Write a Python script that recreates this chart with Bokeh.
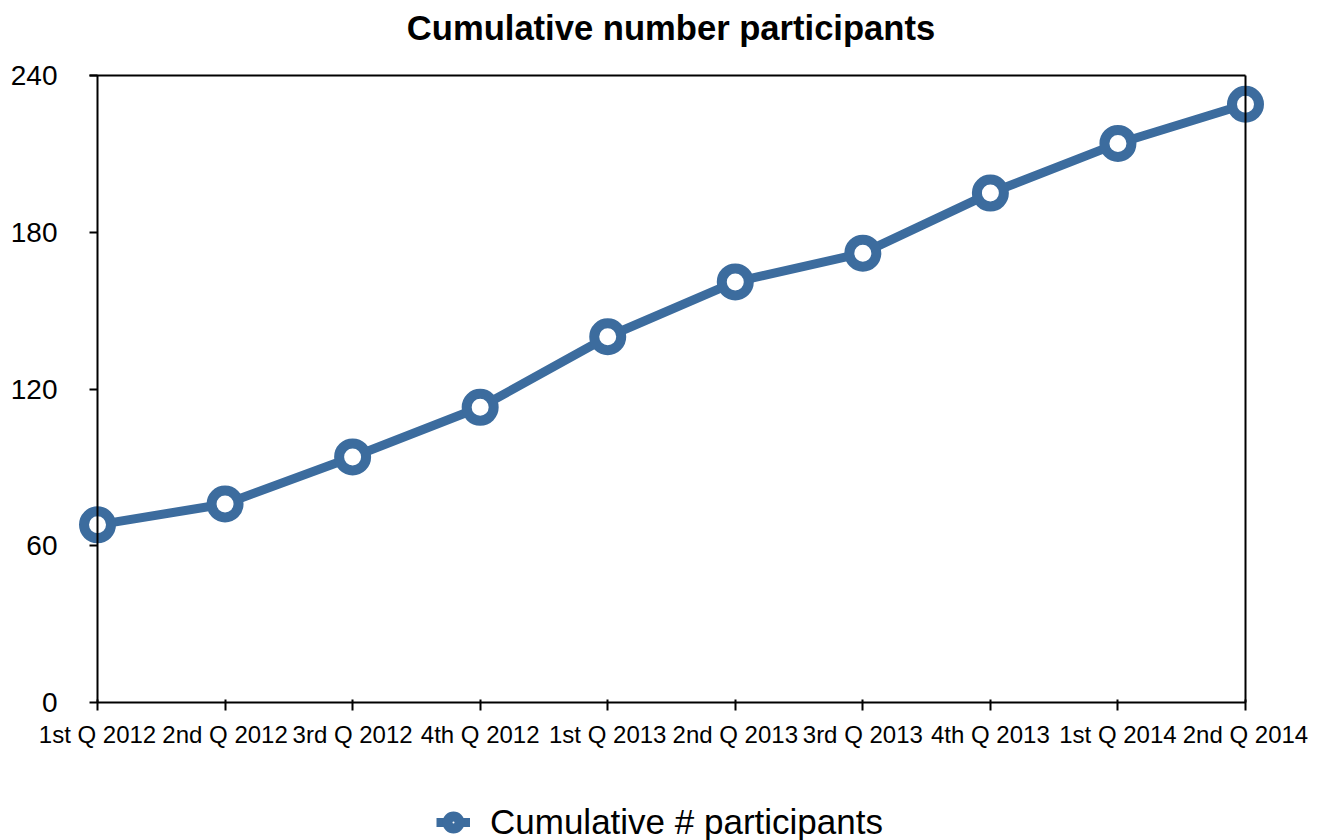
from bokeh.plotting import figure
from bokeh.models import Range1d, FixedTicker, LinearAxis, Legend, LegendItem, Label
from bokeh.embed import file_html
from bokeh.resources import INLINE

# ---- data ----
quarters = ["1st Q 2012", "2nd Q 2012", "3rd Q 2012", "4th Q 2012",
            "1st Q 2013", "2nd Q 2013", "3rd Q 2013", "4th Q 2013",
            "1st Q 2014", "2nd Q 2014"]
participants = [68, 76, 94, 113, 140, 161, 172, 195, 214, 229]
y_ticks = [0, 60, 120, 180, 240]
series_name = "Cumulative # participants"
title_text = "Cumulative number participants"

FONT = "Liberation Sans"
COLOR = "#3c6c9e"

x = list(range(len(quarters)))
n_last = len(quarters) - 1

# the plot area spans the whole canvas; the axes sit at the data positions,
# with room around them for the title, the tick labels and the legend
X_PAD_LEFT, X_PAD_RIGHT = 0.7605, 0.6037
Y_PAD_BOTTOM, Y_PAD_TOP = 52.82, 28.71

p = figure(width=1322, height=840, output_backend="svg", toolbar_location=None,
           x_range=Range1d(-X_PAD_LEFT, n_last + X_PAD_RIGHT),
           y_range=Range1d(y_ticks[0] - Y_PAD_BOTTOM, y_ticks[-1] + Y_PAD_TOP),
           min_border_left=0, min_border_right=0, min_border_top=0, min_border_bottom=0,
           x_axis_location=None, y_axis_location=None)
p.outline_line_color = None
p.grid.visible = False
p.background_fill_color = "white"
p.border_fill_color = "white"
p.title.visible = False


def frame_axis(axis):
    axis.axis_line_width = 2
    axis.axis_line_color = "black"
    axis.major_tick_line_width = 2
    axis.major_tick_line_color = "black"
    axis.minor_tick_line_color = None
    return axis


# bottom x axis at y = 0
xax = frame_axis(LinearAxis(ticker=FixedTicker(ticks=x), bounds=(0, n_last), fixed_location=0,
                            major_label_overrides={i: q for i, q in enumerate(quarters)}))
xax.major_tick_in = 3
xax.major_tick_out = 8
xax.major_label_text_font = FONT
xax.major_label_text_font_size = "24px"
xax.major_label_text_color = "black"
xax.major_label_standoff = 10
p.add_layout(xax, "below")

# left y axis at x = 0
yax = frame_axis(LinearAxis(ticker=FixedTicker(ticks=y_ticks),
                            bounds=(y_ticks[0], y_ticks[-1]), fixed_location=0))
yax.major_tick_in = 0
yax.major_tick_out = 8
yax.major_label_text_font = FONT
yax.major_label_text_font_size = "28px"
yax.major_label_text_color = "black"
yax.major_label_standoff = 32
p.add_layout(yax, "left")

# right frame line at the last category
rax = frame_axis(LinearAxis(ticker=FixedTicker(ticks=[]),
                            bounds=(y_ticks[0], y_ticks[-1]), fixed_location=n_last))
rax.major_tick_line_color = None
rax.major_label_text_font_size = "0px"
p.add_layout(rax, "right")

# top frame line at y = 240
tax = frame_axis(LinearAxis(ticker=FixedTicker(ticks=[]), bounds=(-0.063, n_last),
                            fixed_location=y_ticks[-1]))
tax.major_tick_line_color = None
tax.major_label_text_font_size = "0px"
p.add_layout(tax, "above")

# title
title = Label(x=670.5, y=813, x_units="screen", y_units="screen", text=title_text,
              text_font=FONT, text_font_size="34.6px", text_font_style="bold",
              text_color="black", text_align="center", text_baseline="middle")
p.add_layout(title)

# series
ln = p.line(x, participants, line_width=9, line_color=COLOR, line_join="round")
sc = p.scatter(x, participants, size=27, fill_color="white", line_color=COLOR, line_width=10)

legend = Legend(items=[LegendItem(label=series_name, renderers=[ln, sc])],
                location=(436, -2), orientation="horizontal",
                border_line_color=None, background_fill_alpha=0,
                padding=0, margin=0, glyph_width=34, glyph_height=30,
                label_standoff=20, label_text_font=FONT, label_text_font_size="35px",
                label_text_color="black")
p.add_layout(legend, "center")

open("out.html", "w").write(file_html(p, INLINE))
